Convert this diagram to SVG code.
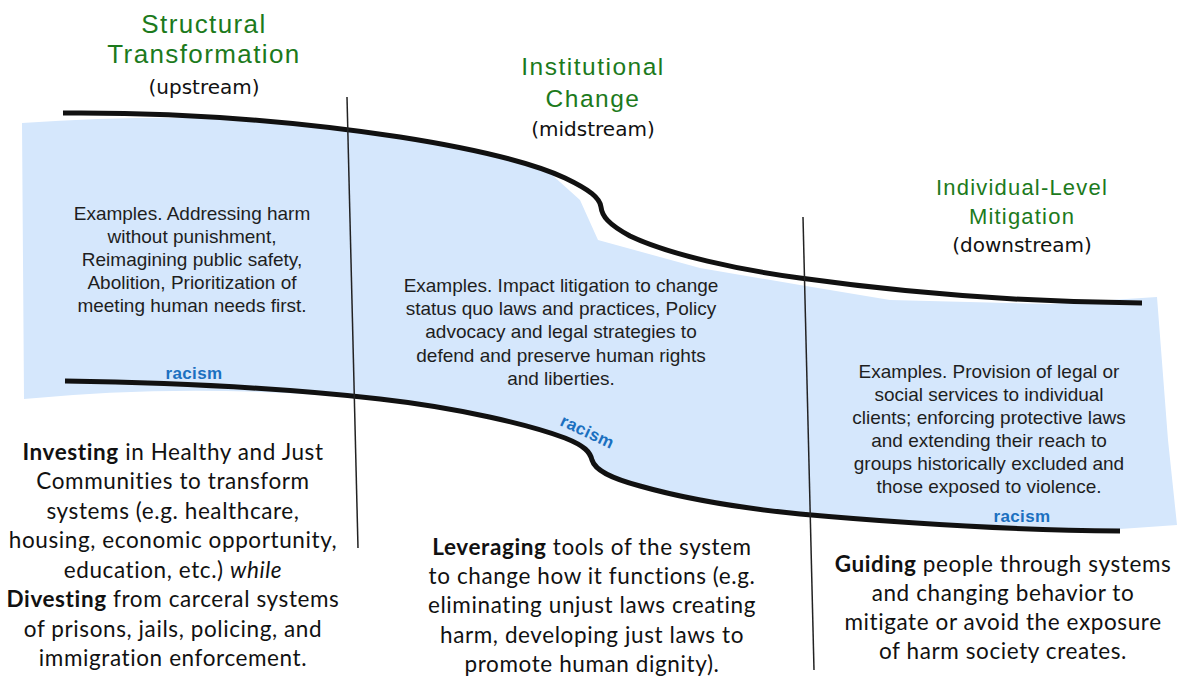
<svg xmlns="http://www.w3.org/2000/svg" width="1177" height="677" viewBox="0 0 1177 677">
<style>
.title{font-family:"Liberation Sans",Arial,sans-serif;fill:#1c7a1c;text-anchor:middle}
.sub{font-family:"DejaVu Sans",Verdana,sans-serif;font-size:20px;fill:#111;text-anchor:middle}
.ex{font-family:"Liberation Sans",Arial,sans-serif;font-size:19px;fill:#1e1e1e;text-anchor:middle}
.rac{font-family:"Liberation Sans",Arial,sans-serif;font-size:17px;font-weight:bold;fill:#1b70c0;letter-spacing:0.4px;text-anchor:middle}
.body{font-family:Lato,"Liberation Sans",sans-serif;font-size:22.5px;letter-spacing:0.6px;fill:#111;text-anchor:middle}
.b{font-weight:bold}
.bank{fill:none;stroke:#111;stroke-width:5;stroke-linecap:butt}
.div{fill:none;stroke:#222;stroke-width:1.5}
</style>
<rect width="1177" height="677" fill="#fff"/>
<g id="river">
<path fill="#d5e7fc" d="M22,123 Q110,117 200,118 C 290,121 340,127 400,137 C 470,148 520,160 550,173 L 580,200 L 598,240 L 700,268 L 800,285 L 890,300 L 1050,304 L 1157,297 L 1168,440 L 1177,525 L 1120,529 C 1000,528 900,521 800,512 C 760,508 700,500 640,484 C 610,476 596,470 592,460 C 590,452 585,446 565,438 C 530,425 460,408 380,400 Q 200,382 24,399 Z"/>
</g>
<g id="connectors">
<path class="bank" d="M63,113 C 180,112 300,122 400,137 C 470,148 530,162 565,178 C 590,190 600,198 601,207 C 602,216 608,224 630,236 C 670,255 740,270 800,278 C 900,292 1010,302 1142,303"/>
<path class="bank" d="M65,381 C 200,383 300,390 380,399 C 460,408 530,425 565,438 C 585,446 590,452 592,460 C 595,470 610,478 640,486 C 700,503 760,510 800,514 C 900,523 1000,530 1120,531"/>
<line class="div" x1="347" y1="97" x2="358" y2="548"/>
<line class="div" x1="803" y1="217" x2="814" y2="670"/>
</g>
<g id="upstream">
<text class="title" font-size="26" letter-spacing="1.4" x="204" y="33">Structural</text>
<text class="title" font-size="26" letter-spacing="1.4" x="204" y="63">Transformation</text>
<text class="sub" x="204" y="94">(upstream)</text>
<text class="ex" x="192" y="220">Examples. Addressing harm</text>
<text class="ex" x="192" y="243">without punishment,</text>
<text class="ex" x="192" y="266">Reimagining public safety,</text>
<text class="ex" x="192" y="289">Abolition, Prioritization of</text>
<text class="ex" x="192" y="312">meeting human needs first.</text>
<text class="rac" x="194" y="379">racism</text>
<text class="body" x="173" y="460"><tspan class="b">Investing</tspan> in Healthy and Just</text>
<text class="body" x="173" y="489">Communities to transform</text>
<text class="body" x="173" y="519">systems (e.g. healthcare,</text>
<text class="body" x="173" y="548">housing, economic opportunity,</text>
<text class="body" x="173" y="578">education, etc.) <tspan font-style="italic">while</tspan></text>
<text class="body" x="173" y="607"><tspan class="b">Divesting</tspan> from carceral systems</text>
<text class="body" x="173" y="637">of prisons, jails, policing, and</text>
<text class="body" x="173" y="666">immigration enforcement.</text>
</g>
<g id="midstream">
<text class="title" font-size="24.5" letter-spacing="1.5" x="593" y="75">Institutional</text>
<text class="title" font-size="24.5" letter-spacing="1.5" x="593" y="107">Change</text>
<text class="sub" x="593" y="136">(midstream)</text>
<text class="ex" x="561" y="292">Examples. Impact litigation to change</text>
<text class="ex" x="561" y="315">status quo laws and practices, Policy</text>
<text class="ex" x="561" y="338">advocacy and legal strategies to</text>
<text class="ex" x="561" y="362">defend and preserve human rights</text>
<text class="ex" x="561" y="385">and liberties.</text>
<text class="rac" transform="translate(585,437) rotate(25)" x="0" y="0">racism</text>
<text class="body" x="592" y="555"><tspan class="b">Leveraging</tspan> tools of the system</text>
<text class="body" x="592" y="584">to change how it functions (e.g.</text>
<text class="body" x="592" y="613">eliminating unjust laws creating</text>
<text class="body" x="592" y="643">harm, developing just laws to</text>
<text class="body" x="592" y="672">promote human dignity).</text>
</g>
<g id="downstream">
<text class="title" font-size="22" letter-spacing="1.2" x="1022" y="195">Individual-Level</text>
<text class="title" font-size="22" letter-spacing="1.2" x="1022" y="224">Mitigation</text>
<text class="sub" x="1022" y="252">(downstream)</text>
<text class="ex" x="989" y="378">Examples. Provision of legal or</text>
<text class="ex" x="989" y="401">social services to individual</text>
<text class="ex" x="989" y="424">clients; enforcing protective laws</text>
<text class="ex" x="989" y="447">and extending their reach to</text>
<text class="ex" x="989" y="470">groups historically excluded and</text>
<text class="ex" x="989" y="493">those exposed to violence.</text>
<text class="rac" x="1022" y="522">racism</text>
<text class="body" x="1003" y="572"><tspan class="b">Guiding</tspan> people through systems</text>
<text class="body" x="1003" y="601">and changing behavior to</text>
<text class="body" x="1003" y="630">mitigate or avoid the exposure</text>
<text class="body" x="1003" y="659">of harm society creates.</text>
</g>
</svg>
